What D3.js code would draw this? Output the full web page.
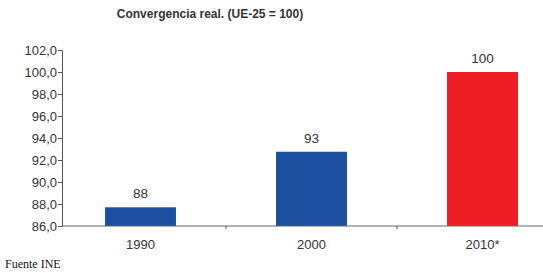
<!DOCTYPE html>
<html>
<head>
<meta charset="utf-8">
<script src="https://cdn.jsdelivr.net/npm/d3@7"></script>
<style>
  body { margin: 0; background: #fff; }
  svg { display: block; }
</style>
</head>
<body>
<div id="chart"></div>
<script>
const years = ["1990", "2000", "2010*"];
const values = [87.7, 92.75, 100];
const labels = ["88", "93", "100"];
const barColors = ["#1c4fa0", "#1c4fa0", "#ee1d24"];
const yTicks = [86, 88, 90, 92, 94, 96, 98, 100, 102];

const width = 543, height = 273;
const font = "Liberation Sans, Arial, sans-serif";

const svg = d3.select("#chart").append("svg")
  .attr("width", width)
  .attr("height", height);

const x = d3.scaleBand()
  .domain(years)
  .range([55, 568])
  .paddingInner(0.585)
  .paddingOuter(0.2925);

const y = d3.scaleLinear()
  .domain([86, 102])
  .range([226, 50]);

// title
svg.append("text")
  .attr("x", 210)
  .attr("y", 18)
  .attr("text-anchor", "middle")
  .style("font-family", font)
  .style("font-size", "12px")
  .style("font-weight", "bold")
  .attr("fill", "#333")
  .text("Convergencia real. (UE-25 = 100)");

// bars
svg.append("g")
  .selectAll("rect")
  .data(values)
  .join("rect")
  .attr("x", (d, i) => x(years[i]))
  .attr("y", d => y(d))
  .attr("width", x.bandwidth())
  .attr("height", d => y(86) - y(d))
  .attr("fill", (d, i) => barColors[i]);

// value labels
svg.append("g")
  .selectAll("text")
  .data(values)
  .join("text")
  .attr("x", (d, i) => x(years[i]) + x.bandwidth() / 2)
  .attr("y", d => y(d) - 9)
  .attr("text-anchor", "middle")
  .style("font-family", font)
  .style("font-size", "13.5px")
  .attr("fill", "#333")
  .text((d, i) => labels[i]);

// y axis
const yAxis = svg.append("g")
  .attr("transform", "translate(62,0)")
  .call(d3.axisLeft(y).tickValues(yTicks).tickSize(4).tickSizeOuter(4)
    .tickFormat(d => d3.format(".1f")(d).replace(".", ",")));
yAxis.selectAll("path, line").attr("stroke", "#555");
yAxis.selectAll("text")
  .attr("x", -5)
  .style("font-family", font)
  .style("font-size", "13px")
  .attr("fill", "#333");

// x axis
const xg = svg.append("g");
xg.append("line")
  .attr("x1", 62).attr("x2", width)
  .attr("y1", y(86)).attr("y2", y(86))
  .attr("stroke", "#666").attr("stroke-width", 1.2);
const step = x.step();
xg.selectAll("line.tick")
  .data(years.slice(1))
  .join("line")
  .attr("class", "tick")
  .attr("x1", d => x(d) - step * x.paddingInner() / 2)
  .attr("x2", d => x(d) - step * x.paddingInner() / 2)
  .attr("y1", y(86)).attr("y2", y(86) + 3)
  .attr("stroke", "#555");
xg.selectAll("text")
  .data(years)
  .join("text")
  .attr("x", d => x(d) + x.bandwidth() / 2)
  .attr("y", 249)
  .attr("text-anchor", "middle")
  .style("font-family", font)
  .style("font-size", "13px")
  .attr("fill", "#333")
  .text(d => d);

// source
svg.append("text")
  .attr("x", 5)
  .attr("y", 268)
  .style("font-family", "Liberation Serif, Times New Roman, serif")
  .style("font-size", "12px")
  .attr("fill", "#111")
  .text("Fuente INE");
</script>
</body>
</html>
